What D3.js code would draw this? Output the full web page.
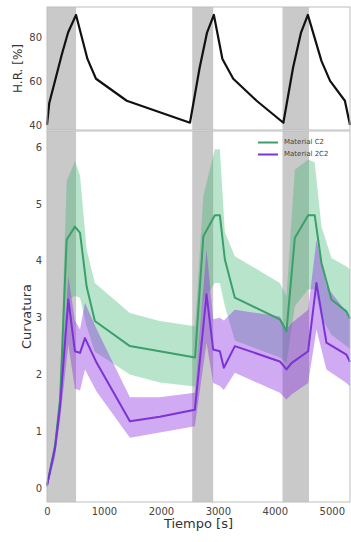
<!DOCTYPE html>
<html><head><meta charset="utf-8">
<script src="https://cdn.jsdelivr.net/npm/d3@7"></script>
<style>body{margin:0;background:#fff;font-family:"DejaVu Sans",sans-serif;}</style>
</head><body><div id="chart"></div>
<script>
// Humidity cycles (grey bands), seconds
const bandStart = [0, 2550, 4135];
const bandEnd = [510, 2918, 4600];

// Relative humidity
const hrTime = [0, 40, 140, 260, 370, 510, 710, 860, 1400, 2510, 2680, 2810, 2930, 3080, 3270, 3680, 4150, 4320, 4460, 4580, 4820, 4970, 5230, 5320];
const hrValue = [40, 50, 60, 72, 82, 90, 70, 61, 51, 41, 66, 82, 90, 70, 61, 51, 41, 66, 82, 90, 69, 60, 51, 40];

// Material C2
const c2Time = [0, 140, 230, 345, 490, 580, 695, 840, 1455, 1980, 2600, 2745, 2947, 3035, 3123, 3298, 4088, 4205, 4351, 4585, 4700, 4819, 4994, 5257, 5320];
const c2Mean = [0.05, 0.74, 1.55, 4.37, 4.60, 4.49, 3.55, 2.94, 2.50, 2.41, 2.30, 4.43, 4.80, 4.80, 4.02, 3.35, 2.97, 2.76, 4.40, 4.80, 4.80, 3.96, 3.32, 3.11, 2.98];
const c2High = [0.1, 0.85, 1.8, 5.4, 5.75, 5.5, 4.2, 3.61, 3.08, 2.94, 2.85, 5.14, 5.96, 5.96, 4.5, 4.08, 3.61, 3.38, 5.6, 5.78, 5.73, 4.6, 4.05, 3.9, 3.85];
const c2Low = [0, 0.6, 1.3, 3.3, 3.38, 3.35, 2.85, 2.4, 2.0, 1.86, 1.79, 3.3, 3.61, 3.61, 3.2, 2.6, 2.3, 2.2, 3.2, 3.5, 3.5, 3.0, 2.7, 2.5, 2.45];

// Material 2C2
const m2Time = [0, 140, 230, 375, 490, 580, 667, 870, 1455, 1980, 2596, 2801, 2918, 3035, 3105, 3298, 4088, 4205, 4292, 4585, 4731, 4906, 5257, 5320];
const m2Mean = [0.05, 0.7, 1.45, 3.32, 2.41, 2.38, 2.64, 2.21, 1.18, 1.26, 1.38, 3.41, 2.44, 2.41, 2.12, 2.50, 2.23, 2.09, 2.20, 2.41, 3.61, 2.56, 2.35, 2.22];
const m2High = [0.1, 0.8, 1.7, 3.73, 2.95, 2.79, 3.26, 2.8, 1.6, 1.6, 1.68, 4.2, 2.97, 3.0, 2.95, 3.14, 3.02, 2.79, 2.9, 3.14, 4.37, 3.55, 3.1, 3.02];
const m2Low = [0, 0.55, 1.2, 2.53, 1.75, 1.72, 2.09, 1.7, 0.89, 0.98, 1.09, 2.56, 1.85, 1.8, 1.73, 2.03, 1.68, 1.56, 1.65, 1.85, 2.79, 2.09, 1.85, 1.79];

const xTicks = [0, 1000, 2000, 3000, 4000, 5000];
const hrTicks = [40, 60, 80];
const curvTicks = [0, 1, 2, 3, 4, 5, 6];
const seriesNames = ["Material C2", "Material 2C2"];

const W = 351, H = 542;
const L = 47, R = 350;
const topT = 7, topB = 130, botT = 131, botB = 502;

const svg = d3.select("#chart").append("svg").attr("width", W).attr("height", H);

const x = d3.scaleLinear().domain([0, 5320]).range([L, R]);
const yHR = d3.scaleLinear().domain([37.7, 93.6]).range([topB, topT]);
const yC = d3.scaleLinear().domain([-0.24, 6.28]).range([botB, botT]);

const greenLine = "#3a9f6a", greenFill = "rgba(60,179,113,0.36)";
const purpleLine = "#7b33d6", purpleFill = "rgba(138,43,226,0.40)";
const spine = "#bdbdbd", tickCol = "#444";

function bands(y0, y1) {
  svg.append("g").selectAll("rect").data(bandStart).join("rect")
    .attr("x", (d) => x(d)).attr("y", y0)
    .attr("width", (d, i) => x(bandEnd[i]) - x(d)).attr("height", y1 - y0)
    .attr("fill", "#c9c9c9");
}

// Top panel
bands(topT, topB);
svg.append("path").datum(hrTime.map((t, i) => [t, hrValue[i]]))
  .attr("d", d3.line().x(d => x(d[0])).y(d => yHR(d[1])))
  .attr("fill", "none").attr("stroke", "#111").attr("stroke-width", 2.2).attr("stroke-linejoin", "round");

const ayHR = svg.append("g").attr("transform", `translate(${L},0)`)
  .call(d3.axisLeft(yHR).tickValues(hrTicks).tickFormat(d3.format("d")).tickSize(0).tickPadding(5));
ayHR.select(".domain").remove();
ayHR.selectAll("text").attr("font-size", 10).attr("fill", tickCol).attr("font-family", "DejaVu Sans");

svg.append("rect").attr("x", L).attr("y", topT).attr("width", R - L).attr("height", topB - topT)
  .attr("fill", "none").attr("stroke", spine).attr("stroke-width", 1);

svg.append("text").attr("transform", `translate(18,${(topT + topB) / 2}) rotate(-90)`)
  .attr("text-anchor", "middle").attr("dominant-baseline", "middle")
  .attr("font-size", 12).attr("fill", "#333").text("H.R. [%]");

// Bottom panel
bands(botT, botB);

function band(times, lo, hi, fill) {
  svg.append("path").datum(times.map((t, i) => [t, lo[i], hi[i]]))
    .attr("d", d3.area().x(d => x(d[0])).y0(d => yC(d[1])).y1(d => yC(d[2])))
    .attr("fill", fill);
}
function line(times, vals, col) {
  svg.append("path").datum(times.map((t, i) => [t, vals[i]]))
    .attr("d", d3.line().x(d => x(d[0])).y(d => yC(d[1])))
    .attr("fill", "none").attr("stroke", col).attr("stroke-width", 2).attr("stroke-linejoin", "round");
}
band(c2Time, c2Low, c2High, greenFill);
band(m2Time, m2Low, m2High, purpleFill);
line(c2Time, c2Mean, greenLine);
line(m2Time, m2Mean, purpleLine);

const ayC = svg.append("g").attr("transform", `translate(${L},0)`)
  .call(d3.axisLeft(yC).tickValues(curvTicks).tickFormat(d3.format("d")).tickSize(0).tickPadding(5));
ayC.select(".domain").remove();
ayC.selectAll("text").attr("font-size", 10).attr("fill", tickCol).attr("font-family", "DejaVu Sans");

const ax = svg.append("g").attr("transform", `translate(0,${botB})`)
  .call(d3.axisBottom(x).tickValues(xTicks).tickFormat(d3.format("d")).tickSize(0).tickPadding(6));
ax.select(".domain").remove();
ax.selectAll("text").attr("font-size", 10).attr("fill", tickCol).attr("font-family", "DejaVu Sans");

svg.append("rect").attr("x", L).attr("y", botT).attr("width", R - L).attr("height", botB - botT)
  .attr("fill", "none").attr("stroke", spine).attr("stroke-width", 1);

svg.append("text").attr("transform", `translate(27,${(botT + botB) / 2}) rotate(-90)`)
  .attr("text-anchor", "middle").attr("dominant-baseline", "middle")
  .attr("font-size", 13).attr("fill", "#333").text("Curvatura");

svg.append("text").attr("x", (L + R) / 2).attr("y", 528)
  .attr("text-anchor", "middle").attr("font-size", 13).attr("fill", "#333").text("Tiempo [s]");

// Legend
const leg = svg.append("g");
[greenLine, purpleLine].forEach((c, i) => {
  const yy = 142.5 + i * 12;
  leg.append("line").attr("x1", 258).attr("x2", 278).attr("y1", yy).attr("y2", yy)
    .attr("stroke", c).attr("stroke-width", 2);
  leg.append("text").attr("x", 284).attr("y", yy).attr("dominant-baseline", "middle")
    .attr("font-size", 7).attr("fill", "#444").text(seriesNames[i]);
});
</script>
</body></html>
